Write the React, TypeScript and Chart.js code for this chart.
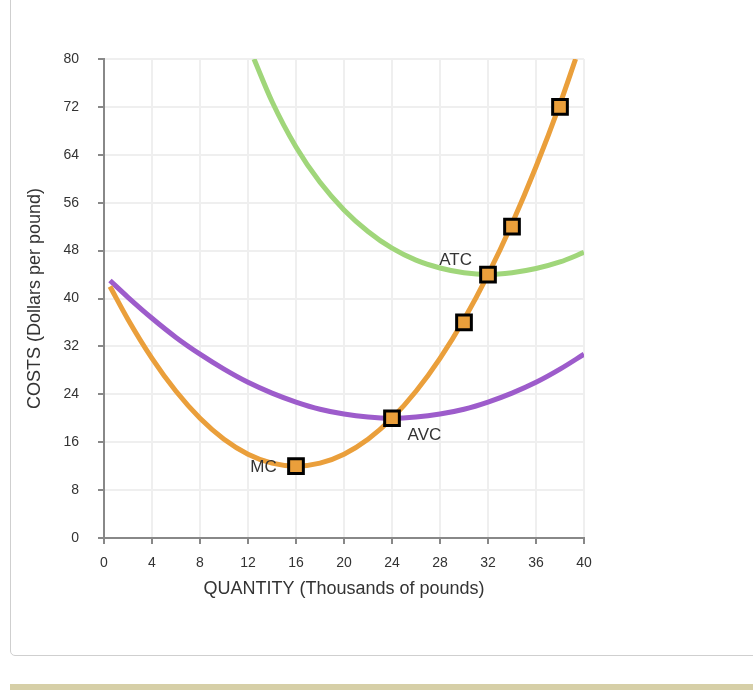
import React, { useEffect, useRef } from "react";
import { Chart, registerables } from "chart.js";

Chart.register(...registerables);

// Curves (quantity in thousands of pounds, cost in dollars per pound)
const mcX = [0.5, 2, 4, 6, 8, 10, 12, 14, 16, 18, 20, 22, 24, 26, 28, 30, 32, 34, 36, 38, 39.3];
const mcY = [42, 36.5, 30, 24.5, 20, 16.5, 14, 12.5, 12, 12.5, 14, 16.5, 20, 24.5, 30, 36.5, 44, 52.5, 62, 72.5, 80];

const avcX = [0.5, 2, 4, 6, 8, 10, 12, 14, 16, 18, 20, 22, 24, 26, 28, 30, 32, 34, 36, 38, 40];
const avcY = [43, 40.2, 36.7, 33.5, 30.7, 28.2, 26, 24.2, 22.7, 21.5, 20.7, 20.2, 20, 20.2, 20.7, 21.5, 22.7, 24.2, 26, 28.2, 30.7];

const atcX = [12.5, 14, 16, 18, 20, 22, 24, 26, 28, 30, 32, 34, 36, 38, 40];
const atcY = [80, 72.9, 65.3, 59.4, 54.8, 51.2, 48.4, 46.4, 45.1, 44.3, 44, 44.3, 45, 46.1, 47.7];

// Square markers on MC
const markerX = [16, 24, 30, 32, 34, 38];
const markerY = [12, 20, 36, 44, 52, 72];

// Curve labels
const labelText = ["MC", "ATC", "AVC"];
const labelX = [14.4, 29.3, 26.7];
const labelY = [11.8, 46.3, 17.2];
const labelAlign: CanvasTextAlign[] = ["right", "center", "center"];

const xTitle = "QUANTITY (Thousands of pounds)";
const yTitle = "COSTS (Dollars per pound)";

const ORANGE = "rgb(234,159,59)";
const PURPLE = "rgb(157,92,203)";
const GREEN = "rgb(160,214,122)";
const FONT = "'Liberation Sans', Arial, Helvetica, sans-serif";

const zip = (xs: number[], ys: number[]) => xs.map((x, i) => ({ x, y: ys[i] }));

const labelPlugin = {
  id: "curveLabels",
  afterDatasetsDraw(chart: any) {
    const { ctx, scales } = chart;
    ctx.save();
    ctx.font = `17px ${FONT}`;
    ctx.fillStyle = "#333";
    ctx.textBaseline = "middle";
    labelText.forEach((t, i) => {
      ctx.textAlign = labelAlign[i];
      ctx.fillText(t, scales.x.getPixelForValue(labelX[i]), scales.y.getPixelForValue(labelY[i]));
    });
    ctx.restore();
  },
};

export default function App() {
  const ref = useRef<HTMLCanvasElement | null>(null);

  useEffect(() => {
    if (!ref.current) return;
    Chart.defaults.font.family = FONT;
    Chart.defaults.color = "#333";
    const lineDs = (data: any, color: string) => ({
      type: "line" as const,
      data,
      borderColor: color,
      borderWidth: 5,
      pointRadius: 0,
      pointHoverRadius: 0,
      cubicInterpolationMode: "monotone" as const,
      fill: false,
    });
    const chart = new Chart(ref.current, {
      type: "line",
      data: {
        datasets: [
          {
            type: "scatter" as const,
            data: zip(markerX, markerY),
            pointStyle: "rect",
            pointRadius: 10.4,
            pointBackgroundColor: ORANGE,
            pointBorderColor: "#000",
            pointBorderWidth: 3,
            showLine: false,
            order: 0,
          } as any,
          { ...lineDs(zip(mcX, mcY), ORANGE), order: 1 },
          { ...lineDs(zip(avcX, avcY), PURPLE), order: 2 },
          { ...lineDs(zip(atcX, atcY), GREEN), order: 3 },
        ],
      },
      options: {
        animation: false,
        responsive: false,
        events: [],
        layout: { padding: { left: 20, top: 59, right: 36, bottom: 0 } },
        plugins: { legend: { display: false }, tooltip: { enabled: false } },
        scales: {
          x: {
            type: "linear",
            min: 0,
            max: 40,
            afterFit: (s: any) => {
              s.height = 82;
            },
            ticks: { stepSize: 4, padding: 11, font: { size: 14 }, color: "#333" },
            grid: { color: "#efefef", lineWidth: 2, tickColor: "#888", tickWidth: 2, tickLength: 6 },
            border: { color: "#888", width: 2 },
            title: { display: true, text: xTitle, font: { size: 18 }, color: "#333", padding: { top: 0, bottom: 20 } },
          },
          y: {
            type: "linear",
            min: 0,
            max: 80,
            afterFit: (s: any) => {
              s.width = 84;
            },
            ticks: { stepSize: 8, padding: 19, font: { size: 14 }, color: "#333" },
            grid: { color: "#efefef", lineWidth: 2, tickColor: "#888", tickWidth: 2, tickLength: 6 },
            border: { color: "#888", width: 2 },
            title: { display: true, text: yTitle, font: { size: 18 }, color: "#333", padding: { top: 4.5, bottom: 0 } },
          },
        },
      },
      plugins: [labelPlugin],
    });
    return () => chart.destroy();
  }, []);

  return (
    <div style={{ position: "fixed", left: 0, top: 0, width: 753, height: 690, overflow: "hidden", background: "#fff" }}>
      <div
        style={{
          position: "absolute",
          left: 10,
          top: -20,
          width: 800,
          height: 676,
          boxSizing: "border-box",
          border: "1px solid #cfcfcf",
          borderRadius: 5,
        }}
      />
      <div style={{ position: "absolute", left: 10, top: 684, width: 760, height: 6, background: "#d6cfa7" }} />
      <canvas ref={ref} width={620} height={620} style={{ position: "absolute", left: 0, top: 0, width: 620, height: 620 }} />
    </div>
  );
}
